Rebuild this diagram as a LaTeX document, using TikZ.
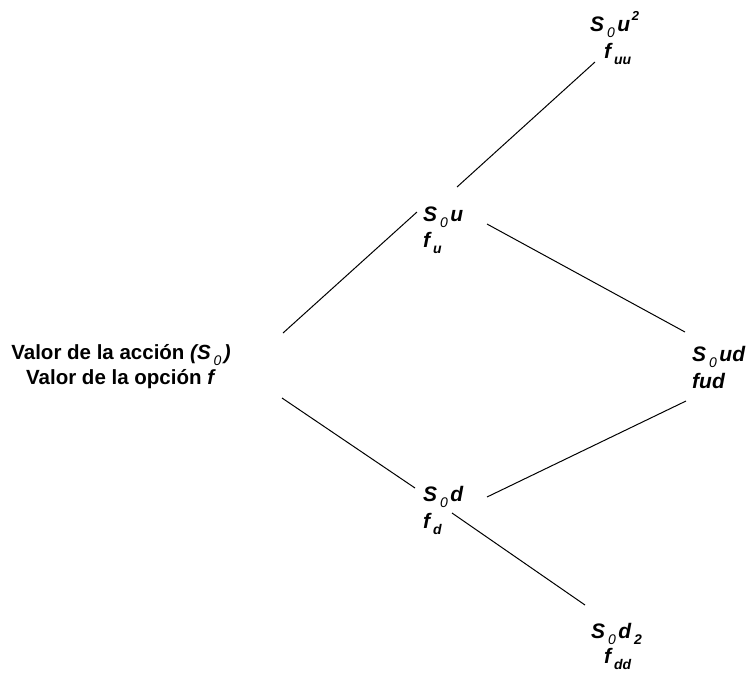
\documentclass[tikz,border=0pt]{standalone}
\usepackage{fontspec}
\setmainfont{Liberation Sans}
\newcommand{\dn}[1]{\hspace{0.14em}\raisebox{-0.3em}{\fontsize{14}{14}\selectfont\mdseries\itshape #1}\hspace{0.12em}}
\newcommand{\dnb}[1]{\hspace{0.14em}\raisebox{-0.3em}{\fontsize{14}{14}\selectfont\bfseries\itshape #1}\hspace{0.12em}}
\newcommand{\upr}[1]{\hspace{0.08em}\raisebox{0.5em}{\fontsize{13}{13}\selectfont\bfseries\itshape #1}}
\begin{document}
\begin{tikzpicture}[x=1pt,y=-1pt,
  lbl/.style={font=\fontsize{21}{24}\selectfont\bfseries\itshape, inner sep=0pt, anchor=base west},
  ttl/.style={font=\fontsize{20.5}{24}\selectfont\bfseries, inner sep=0pt, anchor=base},
  edge/.style={draw=black, line width=1pt}]
\useasboundingbox (0,0) rectangle (749,673);
% left text
\node[ttl] (root1) at (121,359) {Valor de la acción \textit{(S\dn{0})}};
\node[ttl] (root2) at (121,384) {Valor de la opción \textit{f}};
% labels
\node[lbl] (suu) at (590,31) {S\dn{0}u\upr{2}};
\node[lbl] (fuu) at (604,58) {f\dnb{uu}};
\node[lbl] (su) at (423,221) {S\dn{0}u};
\node[lbl] (fu) at (423,247) {f\dnb{u}};
\node[lbl] (sud) at (692,361) {S\dn{0}ud};
\node[lbl] (fud) at (692,388) {fud};
\node[lbl] (sd) at (423,501) {S\dn{0}d};
\node[lbl] (fd) at (423,528) {f\dnb{d}};
\node[lbl] (sdd) at (591,638) {S\dn{0}d\dnb{2}};
\node[lbl] (fdd) at (604,663) {f\dnb{dd}};
% connector ends
\coordinate (a1) at (283,333); \coordinate (a2) at (417,212);
\coordinate (b1) at (282,398); \coordinate (b2) at (415,488);
\coordinate (c1) at (457,187); \coordinate (c2) at (595,62);
\coordinate (d1) at (487,224); \coordinate (d2) at (685,332);
\coordinate (e1) at (487,497); \coordinate (e2) at (686,401);
\coordinate (g1) at (452,513); \coordinate (g2) at (585,605);
\draw[edge] (a1) -- (a2);
\draw[edge] (b1) -- (b2);
\draw[edge] (c1) -- (c2);
\draw[edge] (d1) -- (d2);
\draw[edge] (e1) -- (e2);
\draw[edge] (g1) -- (g2);
\end{tikzpicture}
\end{document}
